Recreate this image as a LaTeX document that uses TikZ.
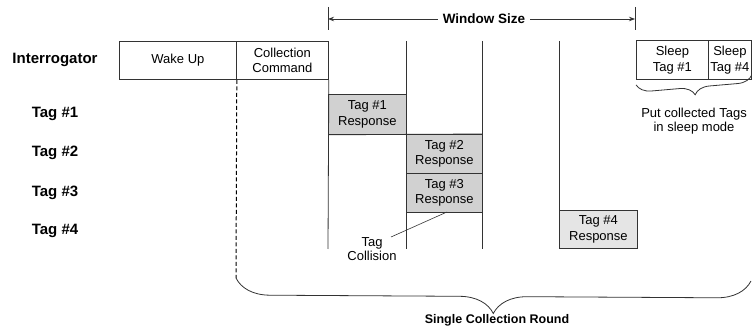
\documentclass[tikz,border=0pt]{standalone}
\usepackage{fontspec}
\setmainfont{Liberation Sans}
\usetikzlibrary{decorations.pathreplacing,arrows.meta}
\begin{document}
\begin{tikzpicture}[x=1pt,y=-1pt,
  ln/.style={draw=black!80,line width=0.8pt},
  slot/.style={ln,inner sep=0pt,anchor=north west,align=center,
    font=\fontsize{13}{15.5}\selectfont},
  resp/.style={slot,fill=black!18},
  lab/.style={font=\fontsize{15}{17}\selectfont\bfseries},
  txt/.style={align=center,inner sep=0pt,font=\fontsize{13}{14.5}\selectfont},
  arr/.style={ln,-{Stealth[length=6pt,width=4.5pt]}},
  brc/.style={ln,decorate,decoration={brace,mirror,amplitude=#1}}]
\useasboundingbox (0,0) rectangle (752,328);

% row labels
\node[lab] (lint) at (55,60) {Interrogator};
\node[lab] (lt1) at (55,114) {Tag \#1};
\node[lab] (lt2) at (55,153) {Tag \#2};
\node[lab] (lt3) at (55,193) {Tag \#3};
\node[lab] (lt4) at (55,231) {Tag \#4};

% interrogator slots
\node[slot,minimum width=117pt,minimum height=38pt] (wake) at (119,41) {Wake Up};
\node[slot,minimum width=92pt,minimum height=38pt] (coll) at (236,41) {Collection\\Command};
\node[slot,minimum width=72pt,minimum height=39pt] (s1) at (636,40) {Sleep\\Tag \#1};
\node[slot,minimum width=43pt,minimum height=39pt] (s4) at (708,40) {Sleep\\Tag \#4};

% responses
\node[resp,minimum width=78pt,minimum height=40pt] (r1) at (328,94) {Tag \#1\\Response};
\node[resp,minimum width=76pt,minimum height=39pt] (r2) at (406,134) {Tag \#2\\Response};
\node[resp,minimum width=76pt,minimum height=39pt] (r3) at (406,173) {Tag \#3\\Response};
\node[resp,fill=black!10,minimum width=78pt,minimum height=38pt] (r4) at (559,210) {Tag \#4\\Response};

% slot boundaries
\coordinate (b1) at (328,249);
\coordinate (t2) at (406,41);
\coordinate (b2) at (406,249);
\coordinate (t3) at (482,41);
\coordinate (b3) at (482,249);
\coordinate (t4) at (559,41);
\draw[ln] (coll.south east) -- (b1);
\draw[ln] (t2) -- (b2);
\draw[ln] (t3) -- (b3);
\draw[ln] (t4) -- (r4.north west);
\draw[ln] (r1.south west) -- (r2.north east);

% dashed start line
\coordinate (bl) at (236,278);
\coordinate (br) at (751,281);
\draw[ln,draw=black,line width=1pt,dash pattern=on 4pt off 2.5pt] (wake.south east) -- (bl);

% window size
\coordinate (wl) at (328,19);
\coordinate (wr) at (635,19);
\draw[ln] (328,7) -- (328,30);
\draw[ln] (635,7) -- (635,30);
\node[font=\fontsize{13.5}{15}\selectfont\bfseries,inner sep=5pt] (win) at (484,19) {Window Size};
\draw[arr] (win.west) -- (wl);
\draw[arr] (win.east) -- (wr);

% tag collision
\node[txt] (tc) at (372,249) {Tag\\Collision};
\coordinate (tcs) at (391,237);
\coordinate (hit) at (447,212);
\draw[ln,line width=0.6pt] (tcs) -- (hit);

% sleep brace
\draw[brc=15pt] (s1.south west) ++(0,5) coordinate (sbl) -- ([yshift=5pt]s4.south east);
\node[txt] (put) at (694,121) {Put collected Tags\\in sleep mode};

% big brace
\draw[brc=34pt] (bl) -- (br);
\node[font=\fontsize{12.5}{14}\selectfont\bfseries,inner sep=0pt] (scr) at (497,320) {Single Collection Round};
\end{tikzpicture}
\end{document}
